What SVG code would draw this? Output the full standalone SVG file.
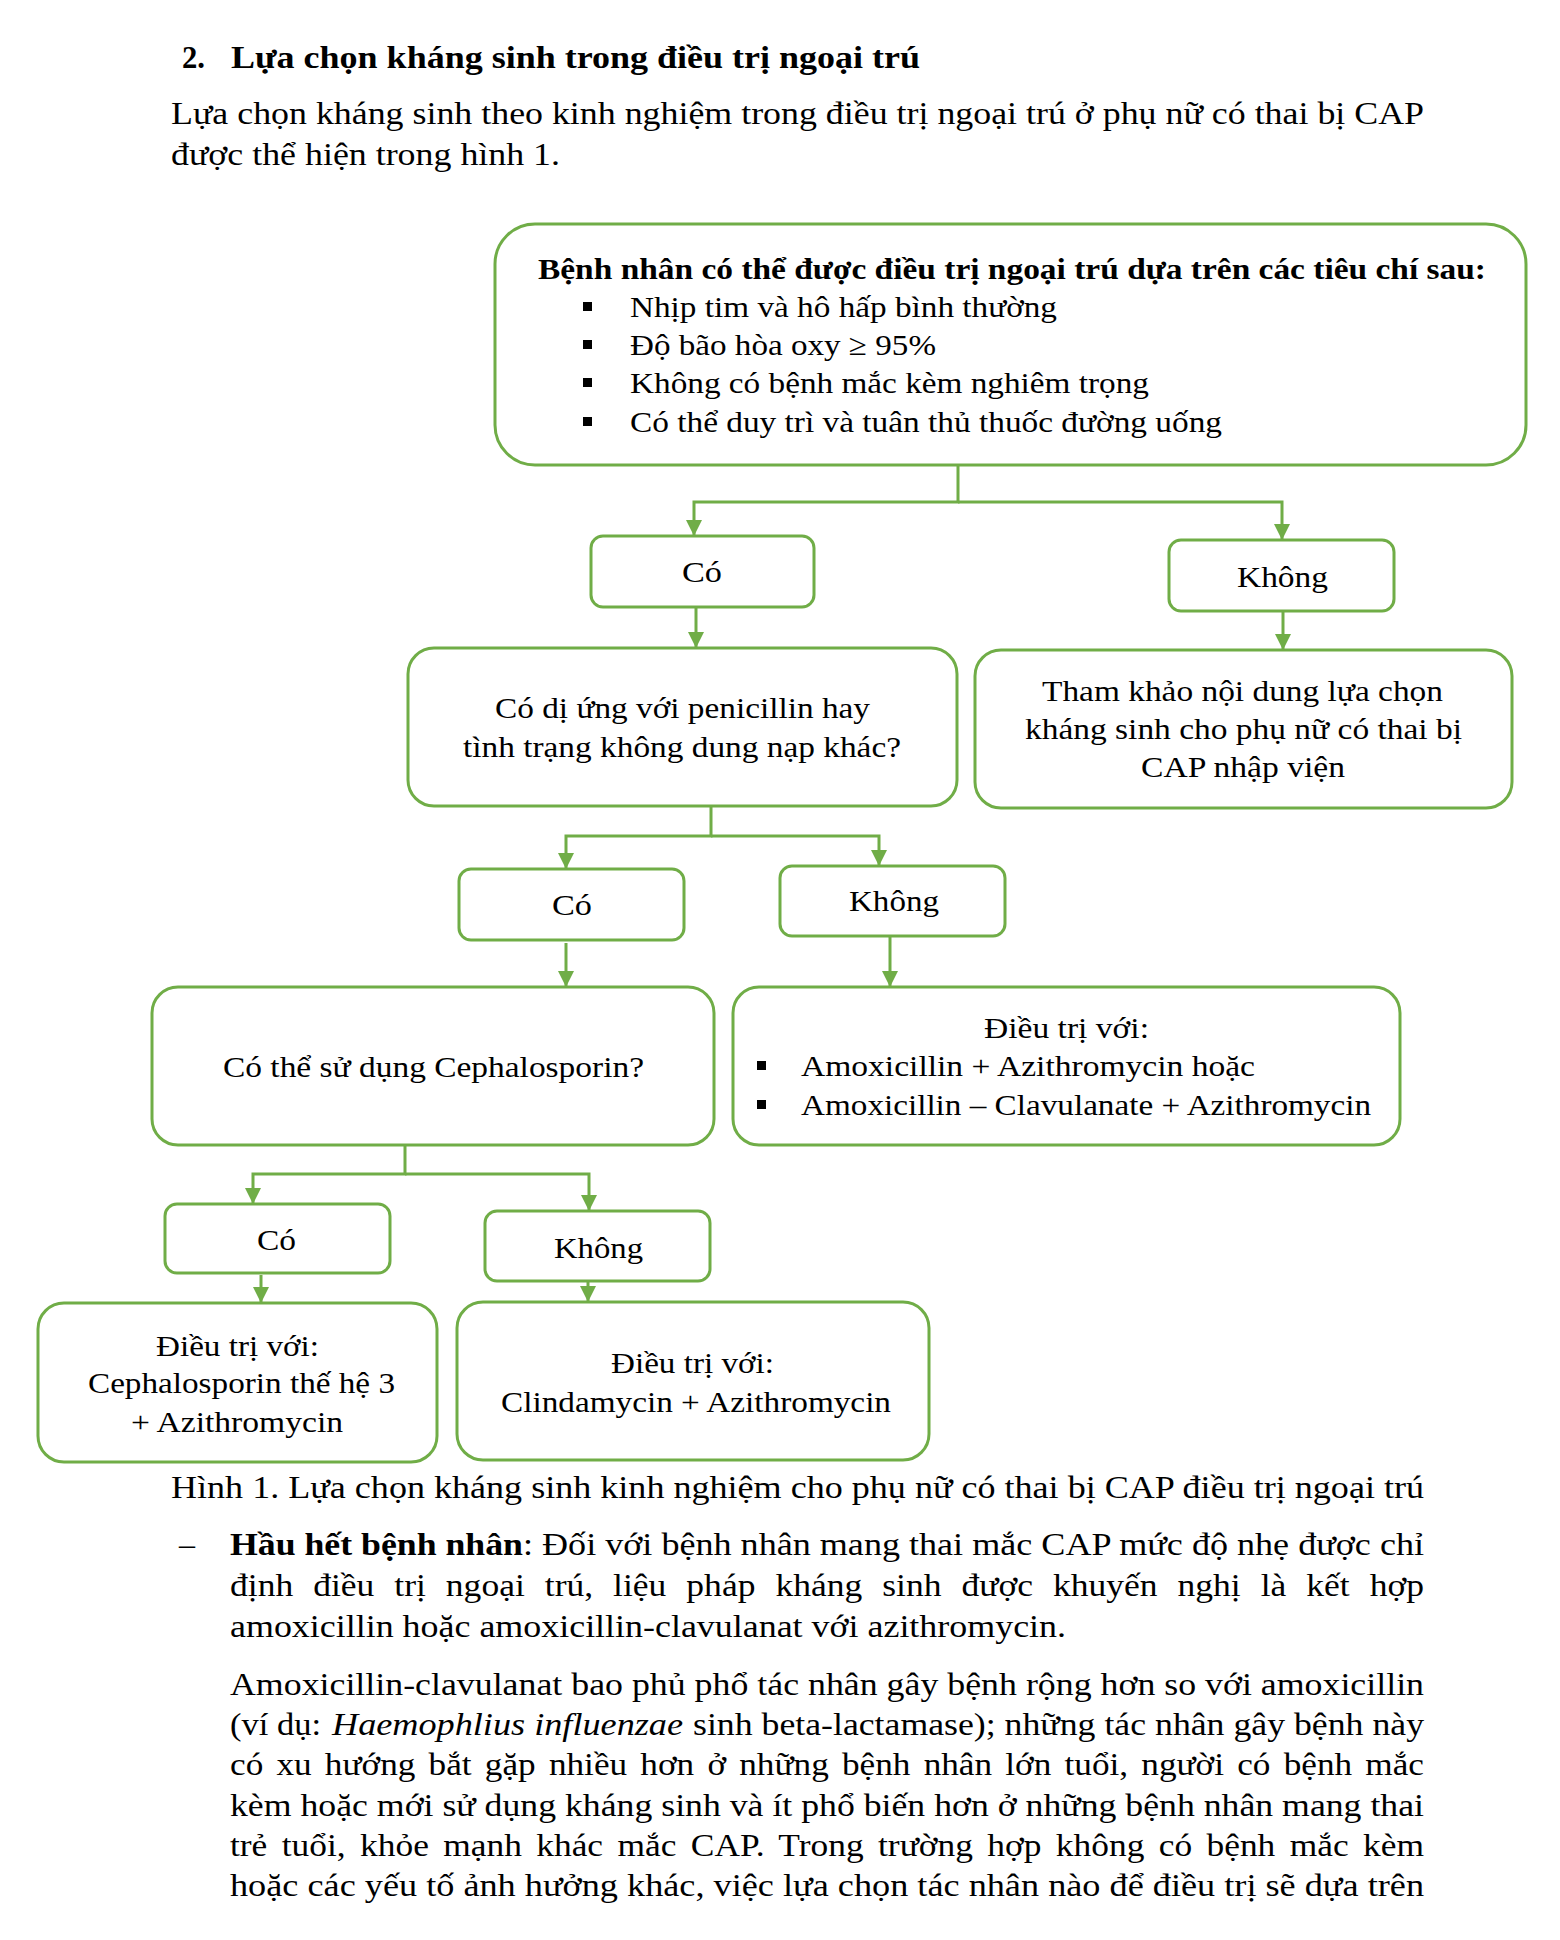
<svg xmlns="http://www.w3.org/2000/svg" width="1560" height="1940" viewBox="0 0 1560 1940">
<defs>
<style>
text { font-family: "Liberation Serif", "Times New Roman", serif; fill: #000; }
.p { font-size: 32px; }
.d { font-size: 30px; }
.b { font-weight: bold; }
.i { font-style: italic; }
.box { fill: #fff; stroke: #70AD47; stroke-width: 3; }
.conn { fill: none; stroke: #70AD47; stroke-width: 3; }
.bul { fill: #000; }
</style>
<marker id="arr" markerUnits="userSpaceOnUse" viewBox="0 0 16 16" markerWidth="16" markerHeight="16" refX="16" refY="8" orient="auto">
<path d="M0,0 L16,8 L0,16 z" fill="#70AD47"/>
</marker>
</defs>
<rect x="0" y="0" width="1560" height="1940" fill="#fff"/>

<g id="intro">
<text class="p b" x="182" y="68" textLength="23" lengthAdjust="spacingAndGlyphs">2.</text>
<text class="p b" x="231" y="68" textLength="689" lengthAdjust="spacingAndGlyphs">Lựa chọn kháng sinh trong điều trị ngoại trú</text>
<text class="p" x="171" y="124" textLength="1253" lengthAdjust="spacingAndGlyphs">Lựa chọn kháng sinh theo kinh nghiệm trong điều trị ngoại trú ở phụ nữ có thai bị CAP</text>
<text class="p" x="171" y="165" textLength="389" lengthAdjust="spacingAndGlyphs">được thể hiện trong hình 1.</text>
</g>

<g id="connectors">
<path class="conn" d="M958 465 V502 H694 V536" marker-end="url(#arr)"/>
<path class="conn" d="M958 502 H1282 V540" marker-end="url(#arr)"/>
<path class="conn" d="M696 607 V648" marker-end="url(#arr)"/>
<path class="conn" d="M1283 611 V650" marker-end="url(#arr)"/>
<path class="conn" d="M711 806 V836 H566 V869" marker-end="url(#arr)"/>
<path class="conn" d="M711 836 H879 V866" marker-end="url(#arr)"/>
<path class="conn" d="M566 943 V987" marker-end="url(#arr)"/>
<path class="conn" d="M890 936 V987" marker-end="url(#arr)"/>
<path class="conn" d="M405 1145 V1174 H253 V1204" marker-end="url(#arr)"/>
<path class="conn" d="M405 1174 H589 V1211" marker-end="url(#arr)"/>
<path class="conn" d="M261 1275 V1303" marker-end="url(#arr)"/>
<path class="conn" d="M588 1282 V1302" marker-end="url(#arr)"/>
</g>

<g id="node-criteria">
<rect class="box" x="495" y="224" width="1031" height="241" rx="40" ry="40"/>
<text class="d b" x="538" y="279" textLength="948" lengthAdjust="spacingAndGlyphs">Bệnh nhân có thể được điều trị ngoại trú dựa trên các tiêu chí sau:</text>
<rect class="bul" x="583" y="302" width="9" height="9"/>
<text class="d" x="630" y="317" textLength="427" lengthAdjust="spacingAndGlyphs">Nhịp tim và hô hấp bình thường</text>
<rect class="bul" x="583" y="340" width="9" height="9"/>
<text class="d" x="630" y="355" textLength="306" lengthAdjust="spacingAndGlyphs">Độ bão hòa oxy ≥ 95%</text>
<rect class="bul" x="583" y="378" width="9" height="9"/>
<text class="d" x="630" y="393" textLength="519" lengthAdjust="spacingAndGlyphs">Không có bệnh mắc kèm nghiêm trọng</text>
<rect class="bul" x="583" y="417" width="9" height="9"/>
<text class="d" x="630" y="432" textLength="592" lengthAdjust="spacingAndGlyphs">Có thể duy trì và tuân thủ thuốc đường uống</text>
</g>

<g id="node-co-1">
<rect class="box" x="591" y="536" width="223" height="71" rx="12" ry="12"/>
<text class="d" x="682" y="582" textLength="40" lengthAdjust="spacingAndGlyphs">Có</text>
</g>
<g id="node-khong-1">
<rect class="box" x="1169" y="540" width="225" height="71" rx="12" ry="12"/>
<text class="d" x="1237" y="587" textLength="91" lengthAdjust="spacingAndGlyphs">Không</text>
</g>

<g id="node-allergy">
<rect class="box" x="408" y="648" width="549" height="158" rx="26" ry="26"/>
<text class="d" x="495" y="718" textLength="375" lengthAdjust="spacingAndGlyphs">Có dị ứng với penicillin hay</text>
<text class="d" x="463" y="757" textLength="438" lengthAdjust="spacingAndGlyphs">tình trạng không dung nạp khác?</text>
</g>
<g id="node-inpatient">
<rect class="box" x="975" y="650" width="537" height="158" rx="26" ry="26"/>
<text class="d" x="1042" y="701" textLength="401" lengthAdjust="spacingAndGlyphs">Tham khảo nội dung lựa chọn</text>
<text class="d" x="1025" y="739" textLength="437" lengthAdjust="spacingAndGlyphs">kháng sinh cho phụ nữ có thai bị</text>
<text class="d" x="1141" y="777" textLength="204" lengthAdjust="spacingAndGlyphs">CAP nhập viện</text>
</g>

<g id="node-co-2">
<rect class="box" x="459" y="869" width="225" height="71" rx="12" ry="12"/>
<text class="d" x="552" y="915" textLength="40" lengthAdjust="spacingAndGlyphs">Có</text>
</g>
<g id="node-khong-2">
<rect class="box" x="780" y="866" width="225" height="70" rx="12" ry="12"/>
<text class="d" x="849" y="911" textLength="90" lengthAdjust="spacingAndGlyphs">Không</text>
</g>

<g id="node-cephalosporin">
<rect class="box" x="152" y="987" width="562" height="158" rx="26" ry="26"/>
<text class="d" x="223" y="1077" textLength="421" lengthAdjust="spacingAndGlyphs">Có thể sử dụng Cephalosporin?</text>
</g>
<g id="node-amoxicillin">
<rect class="box" x="733" y="987" width="667" height="158" rx="26" ry="26"/>
<text class="d" x="984" y="1038" textLength="165" lengthAdjust="spacingAndGlyphs">Điều trị với:</text>
<rect class="bul" x="757" y="1061" width="9" height="9"/>
<text class="d" x="801" y="1076" textLength="454" lengthAdjust="spacingAndGlyphs">Amoxicillin + Azithromycin hoặc</text>
<rect class="bul" x="757" y="1100" width="9" height="9"/>
<text class="d" x="801" y="1115" textLength="570" lengthAdjust="spacingAndGlyphs">Amoxicillin – Clavulanate + Azithromycin</text>
</g>

<g id="node-co-3">
<rect class="box" x="165" y="1204" width="225" height="69" rx="12" ry="12"/>
<text class="d" x="257" y="1250" textLength="39" lengthAdjust="spacingAndGlyphs">Có</text>
</g>
<g id="node-khong-3">
<rect class="box" x="485" y="1211" width="225" height="70" rx="12" ry="12"/>
<text class="d" x="554" y="1258" textLength="89" lengthAdjust="spacingAndGlyphs">Không</text>
</g>

<g id="node-ceph-azithro">
<rect class="box" x="38" y="1303" width="399" height="159" rx="26" ry="26"/>
<text class="d" x="156" y="1356" textLength="163" lengthAdjust="spacingAndGlyphs">Điều trị với:</text>
<text class="d" x="88" y="1393" textLength="307" lengthAdjust="spacingAndGlyphs">Cephalosporin thế hệ 3</text>
<text class="d" x="131" y="1432" textLength="212" lengthAdjust="spacingAndGlyphs">+ Azithromycin</text>
</g>
<g id="node-clinda-azithro">
<rect class="box" x="457" y="1302" width="472" height="158" rx="26" ry="26"/>
<text class="d" x="611" y="1373" textLength="163" lengthAdjust="spacingAndGlyphs">Điều trị với:</text>
<text class="d" x="501" y="1412" textLength="390" lengthAdjust="spacingAndGlyphs">Clindamycin + Azithromycin</text>
</g>

<g id="body-text">
<text class="p" x="171" y="1498" textLength="1253" lengthAdjust="spacingAndGlyphs">Hình 1. Lựa chọn kháng sinh kinh nghiệm cho phụ nữ có thai bị CAP điều trị ngoại trú</text>
<text class="p" x="179" y="1555">–</text>
<text class="p b" x="230" y="1555" textLength="293" lengthAdjust="spacingAndGlyphs">Hầu hết bệnh nhân</text>
<text class="p" x="523" y="1555" textLength="901" lengthAdjust="spacingAndGlyphs">: Đối với bệnh nhân mang thai mắc CAP mức độ nhẹ được chỉ</text>
<text class="p" x="230" y="1596" word-spacing="10" textLength="1194" lengthAdjust="spacingAndGlyphs">định điều trị ngoại trú, liệu pháp kháng sinh được khuyến nghị là kết hợp</text>
<text class="p" x="230" y="1637" textLength="836" lengthAdjust="spacingAndGlyphs">amoxicillin hoặc amoxicillin-clavulanat với azithromycin.</text>
<text class="p" x="230" y="1695" textLength="1194" lengthAdjust="spacingAndGlyphs">Amoxicillin-clavulanat bao phủ phổ tác nhân gây bệnh rộng hơn so với amoxicillin</text>
<text class="p" x="230" y="1735" textLength="91" lengthAdjust="spacingAndGlyphs">(ví dụ:</text>
<text class="p i" x="332" y="1735" textLength="351" lengthAdjust="spacingAndGlyphs">Haemophlius influenzae</text>
<text class="p" x="693" y="1735" textLength="731" lengthAdjust="spacingAndGlyphs">sinh beta-lactamase); những tác nhân gây bệnh này</text>
<text class="p" x="230" y="1775" word-spacing="4" textLength="1194" lengthAdjust="spacingAndGlyphs">có xu hướng bắt gặp nhiều hơn ở những bệnh nhân lớn tuổi, người có bệnh mắc</text>
<text class="p" x="230" y="1816" textLength="1194" lengthAdjust="spacingAndGlyphs">kèm hoặc mới sử dụng kháng sinh và ít phổ biến hơn ở những bệnh nhân mang thai</text>
<text class="p" x="230" y="1856" word-spacing="5" textLength="1194" lengthAdjust="spacingAndGlyphs">trẻ tuổi, khỏe mạnh khác mắc CAP. Trong trường hợp không có bệnh mắc kèm</text>
<text class="p" x="230" y="1896" textLength="1194" lengthAdjust="spacingAndGlyphs">hoặc các yếu tố ảnh hưởng khác, việc lựa chọn tác nhân nào để điều trị sẽ dựa trên</text>
</g>
</svg>
